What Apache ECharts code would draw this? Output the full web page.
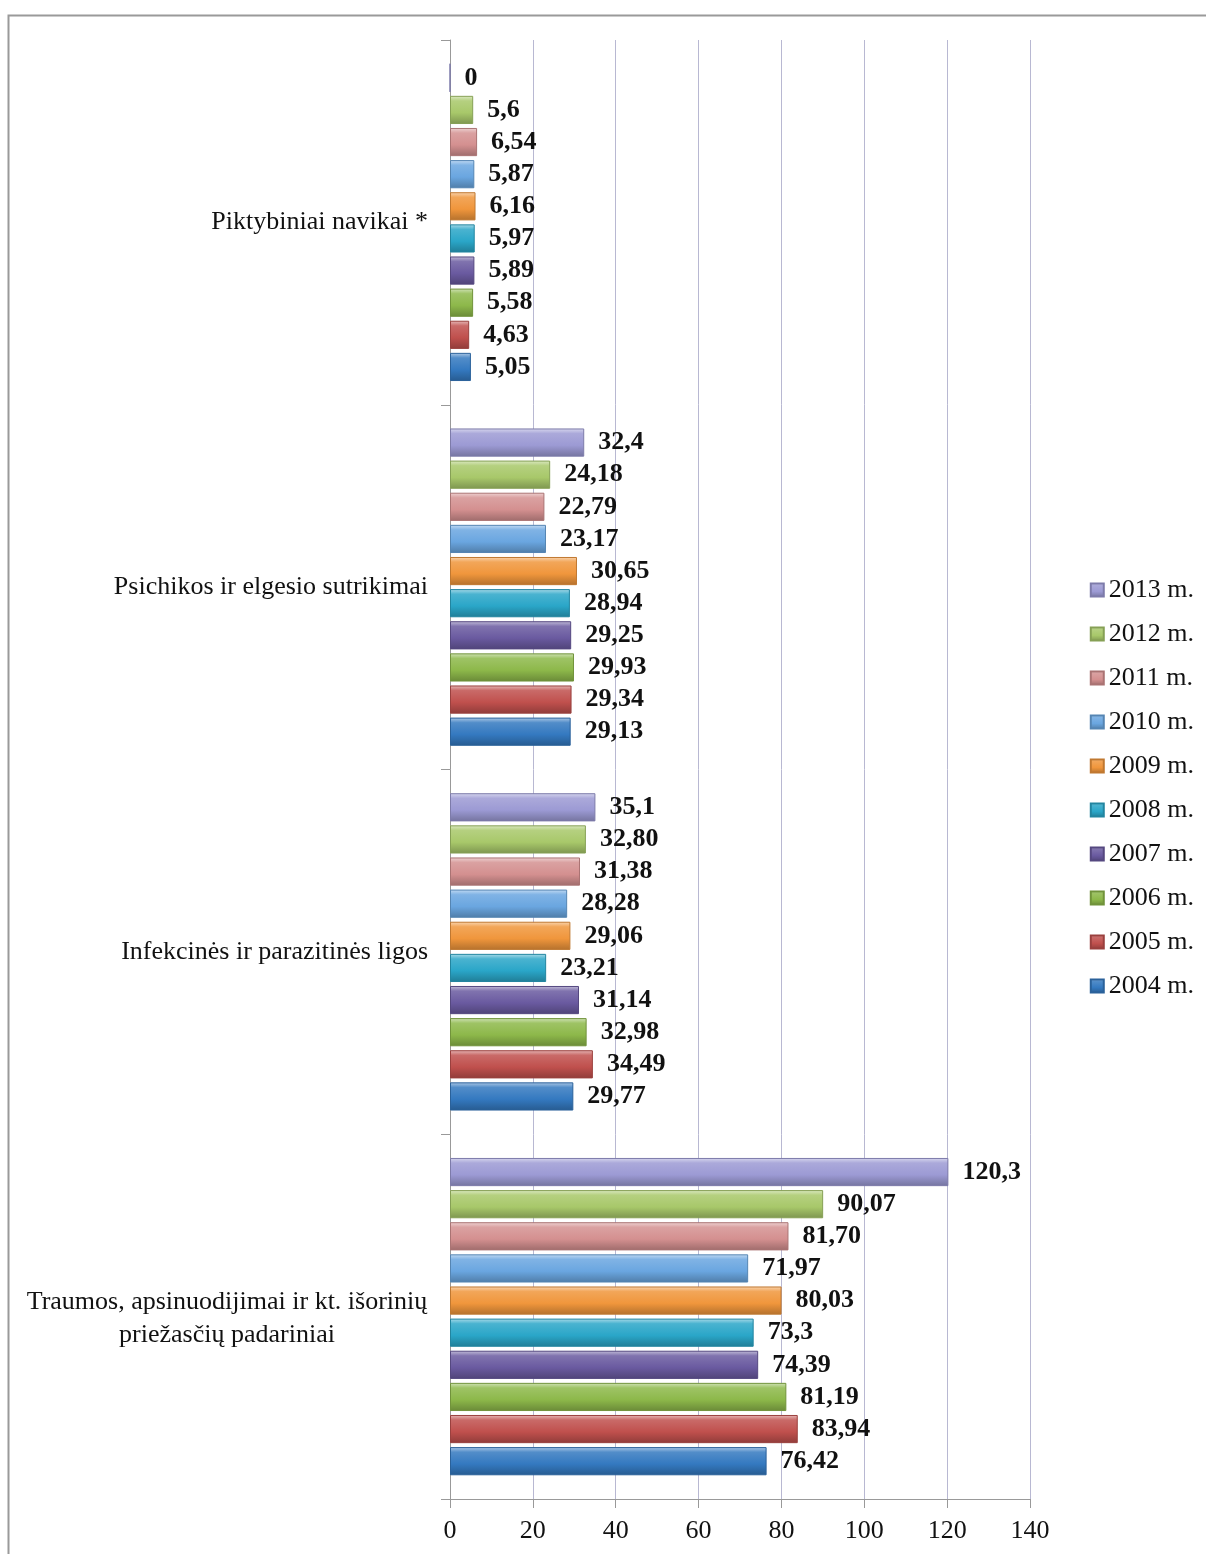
<!DOCTYPE html>
<html><head><meta charset="utf-8">
<script src="https://cdn.jsdelivr.net/npm/echarts@6/dist/echarts.min.js"></script>
<style>html,body{margin:0;padding:0;background:#fff}#c{width:1206px;height:1554px}</style>
</head><body><div id="c"></div>
<script>
const categories = ['Traumos, apsinuodijimai ir kt. išorinių\npriežasčių padariniai', 'Infekcinės ir parazitinės ligos', 'Psichikos ir elgesio sutrikimai', 'Piktybiniai navikai *'];
const years = ['2004 m.', '2005 m.', '2006 m.', '2007 m.', '2008 m.', '2009 m.', '2010 m.', '2011 m.', '2012 m.', '2013 m.'];
const v2004 = [76.42, 29.77, 29.13, 5.05];
const v2005 = [83.94, 34.49, 29.34, 4.63];
const v2006 = [81.19, 32.98, 29.93, 5.58];
const v2007 = [74.39, 31.14, 29.25, 5.89];
const v2008 = [73.3, 23.21, 28.94, 5.97];
const v2009 = [80.03, 29.06, 30.65, 6.16];
const v2010 = [71.97, 28.28, 23.17, 5.87];
const v2011 = [81.70, 31.38, 22.79, 6.54];
const v2012 = [90.07, 32.80, 24.18, 5.6];
const v2013 = [120.3, 35.1, 32.4, 0];
const l2004 = ['76,42', '29,77', '29,13', '5,05'];
const l2005 = ['83,94', '34,49', '29,34', '4,63'];
const l2006 = ['81,19', '32,98', '29,93', '5,58'];
const l2007 = ['74,39', '31,14', '29,25', '5,89'];
const l2008 = ['73,3', '23,21', '28,94', '5,97'];
const l2009 = ['80,03', '29,06', '30,65', '6,16'];
const l2010 = ['71,97', '28,28', '23,17', '5,87'];
const l2011 = ['81,70', '31,38', '22,79', '6,54'];
const l2012 = ['90,07', '32,80', '24,18', '5,6'];
const l2013 = ['120,3', '35,1', '32,4', '0'];
const xTicks = [0, 20, 40, 60, 80, 100, 120, 140];

const values = [v2004, v2005, v2006, v2007, v2008, v2009, v2010, v2011, v2012, v2013];
const labels = [l2004, l2005, l2006, l2007, l2008, l2009, l2010, l2011, l2012, l2013];
const colors = ['#3479c0', '#c0504d', '#8db84a', '#6a5aa0', '#2aa6c8', '#f0963c', '#6aa6e0', '#d49090', '#a8c86a', '#9c9ad4'];

function shade(hex, f) {
  let r = parseInt(hex.slice(1,3),16), g = parseInt(hex.slice(3,5),16), b = parseInt(hex.slice(5,7),16);
  if (f > 0) { r += (255-r)*f; g += (255-g)*f; b += (255-b)*f; }
  else { r *= (1+f); g *= (1+f); b *= (1+f); }
  return 'rgb(' + Math.round(r) + ',' + Math.round(g) + ',' + Math.round(b) + ')';
}

const font = '"Liberation Serif", "Times New Roman", serif';
const FS = 26;
// ECharts places the first series at the top of each band, so add series from 2013 down to 2004
const order = [9, 8, 7, 6, 5, 4, 3, 2, 1, 0];
const series = order.map(i => ({
  name: years[i],
  type: 'bar',
  data: values[i],
  barGap: '14%',
  barCategoryGap: '13%',
  itemStyle: {
    color: {
      type: 'linear', x: 0, y: 0, x2: 0, y2: 1,
      colorStops: [
        {offset: 0, color: shade(colors[i], 0.6)},
        {offset: 0.18, color: shade(colors[i], 0.15)},
        {offset: 0.6, color: colors[i]},
        {offset: 1, color: shade(colors[i], -0.25)}
      ]
    },
    borderColor: shade(colors[i], -0.2),
    borderWidth: 1
  },
  label: {
    show: true, position: 'right', distance: 14,
    formatter: p => labels[i][p.dataIndex],
    fontFamily: font, fontWeight: 'bold', fontSize: FS, color: '#111'
  }
}));

const chart = echarts.init(document.getElementById('c'));
chart.setOption({
  animation: false,
  backgroundColor: '#fff',
  graphic: [{
    type: 'rect', shape: {x: 8.5, y: 15.5, width: 1300, height: 1700},
    style: {fill: 'none', stroke: '#9a9a9a', lineWidth: 2}, silent: true
  }],
  grid: {left: 450, right: 176, top: 40, bottom: 55},
  legend: {
    orient: 'vertical', right: 7, top: 572, itemGap: 18,
    itemWidth: 13, itemHeight: 13, icon: 'rect',
    data: years.slice().reverse(),
    textStyle: {fontFamily: font, fontSize: FS, color: '#111'}
  },
  xAxis: {
    type: 'value', min: 0, max: 140, interval: 20,
    axisLine: {show: true, lineStyle: {color: '#999'}},
    axisTick: {show: true, length: 9, lineStyle: {color: '#999'}},
    splitLine: {show: true, lineStyle: {color: '#b8b8d2'}},
    axisLabel: {fontFamily: font, fontSize: FS, color: '#111', margin: 19,
      formatter: v => xTicks.includes(v) ? String(v) : ''}
  },
  yAxis: {
    type: 'category', data: categories,
    axisLine: {show: true, lineStyle: {color: '#999'}},
    axisTick: {show: true, length: 9, lineStyle: {color: '#999'}},
    axisLabel: {
      fontFamily: font, fontSize: FS, color: '#111', margin: 22, lineHeight: 33,
      formatter: v => v.indexOf('\n') >= 0 ? v.split('\n').map(s => '{c|' + s + '}').join('\n') : v,
      rich: {c: {width: 402, align: 'center', fontFamily: font, fontSize: FS, color: '#111', lineHeight: 33, padding: [4, 0, 0, 0]}}
    }
  },
  series: series
});
</script>
</body></html>
